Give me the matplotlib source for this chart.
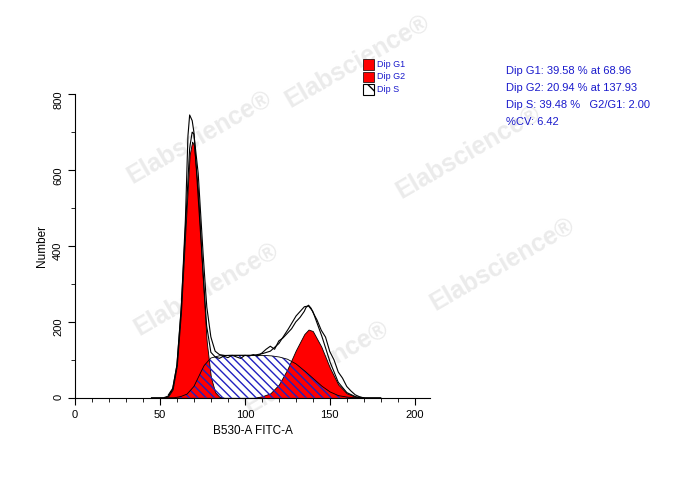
import numpy as np
import matplotlib
matplotlib.use("Agg")
import matplotlib.pyplot as plt
plt.rcParams['font.family'] = ['Liberation Sans', 'DejaVu Sans']

# Raw histogram (jagged)
hx = [55,57.5,60,62.5,65,66.5,67.5,69,70,71.5,72.5,75,77.5,80,82.5,85,87.5,90,92.5,95,97.5,100,102.5,105,107.5,110,112.5,115,117.5,120,122.5,125,127.5,130,132.5,135,136,137.5,139,140,142.5,145,147.5,150,152.5,155,157.5,160,162.5,165,167.5,170]
hy = [8,25,85,230,470,690,745,730,700,600,530,360,190,120,108,104,110,106,112,108,104,112,110,114,110,118,128,136,128,150,158,170,182,200,212,228,238,244,236,226,205,178,160,122,100,68,52,30,18,8,3,0]
# Components
g1x = [52,55,57.5,60,62.5,65,67.5,69,70,72.5,75,77.5,80,82.5,85,88]
g1y = [0,5,22,85,230,440,640,675,665,540,330,150,55,15,3,0]
g2x = [105,110,115,120,125,130,135,137.5,140,145,150,155,160,165,170]
g2y = [0,4,12,35,75,125,168,180,176,135,80,35,12,3,0]
sx = [58,62,66,70,73,76,80,85,90,100,110,115,120,125,130,135,140,145,150,155,160,166]
sy = [0,3,10,30,58,85,105,111,112,112,112,111,108,102,90,72,52,32,16,6,2,0]

fig = plt.figure(figsize=(6.88, 4.9), dpi=100)
for (x, y) in [(0.52, 0.875), (0.29, 0.72), (0.68, 0.69), (0.30, 0.41), (0.73, 0.46), (0.46, 0.25)]:
    fig.text(x, y, 'Elabscience®', fontsize=18, fontweight='bold', color='#ebebeb', rotation=30,
             ha='center', va='center', zorder=0)

ax = fig.add_axes([0.109, 0.188, 0.516, 0.62])
ax.set_zorder(1)
ax.patch.set_visible(False)
xf = np.linspace(45, 180, 800)
G1 = np.interp(xf, g1x, g1y, left=0, right=0)
G2 = np.interp(xf, g2x, g2y, left=0, right=0)
S = np.interp(xf, sx, sy, left=0, right=0)
ax.fill_between(xf, 0, S, facecolor='white', edgecolor='none', zorder=1)
ax.fill_between(xf, 0, G1, facecolor='#ff0000', edgecolor='black', lw=0.6, zorder=2)
ax.fill_between(xf, 0, G2, facecolor='#ff0000', edgecolor='black', lw=0.6, zorder=2)
ax.fill_between(xf, 0, S, facecolor='none', edgecolor='#2020c0', hatch='\\\\\\\\', lw=0, zorder=3)
ax.plot(xf, S, color='black', lw=0.6, zorder=4)
ax.plot(xf, G1 + G2 + S, color='black', lw=0.8, zorder=5)
ax.plot(hx, hy, color='black', lw=0.8, zorder=5)

ax.set_xlim(0, 209)
ax.set_ylim(0, 800)
ax.set_xticks([0, 50, 100, 150, 200])
ax.set_xticks(np.arange(0, 210, 10), minor=True)
ax.set_yticks([0, 200, 400, 600, 800])
ax.set_yticks(np.arange(0, 801, 100), minor=True)
ax.tick_params(labelsize=8, direction='out', length=5)
ax.tick_params(which='minor', length=3)
ax.tick_params(axis='y', labelrotation=90)
for s in ['top', 'right']:
    ax.spines[s].set_visible(False)
ax.set_xlabel('B530-A FITC-A', fontsize=8.5)
ax.set_ylabel('Number', fontsize=8.5)

from matplotlib.patches import Rectangle
labels = ['Dip G1', 'Dip G2', 'Dip S']
for i, lab in enumerate(labels):
    y = 0.858 - i * 0.026
    if i < 2:
        r = Rectangle((0.527, y), 0.016, 0.022, transform=fig.transFigure, facecolor='#ff0000', edgecolor='black', lw=0.5)
    else:
        r = Rectangle((0.527, y), 0.016, 0.022, transform=fig.transFigure, facecolor='white', edgecolor='black', lw=0.8, hatch='\\\\')
    fig.patches.append(r)
    fig.text(0.548, y + 0.011, lab, fontsize=6.5, color='#1a1acc', va='center')

stats = ['Dip G1: 39.58 % at 68.96', 'Dip G2: 20.94 % at 137.93', 'Dip S: 39.48 %   G2/G1: 2.00', '%CV: 6.42']
for i, t in enumerate(stats):
    fig.text(0.735, 0.855 - i * 0.0345, t, fontsize=8, color='#1a1acc', va='center')

fig.savefig('out.png', dpi=100)
